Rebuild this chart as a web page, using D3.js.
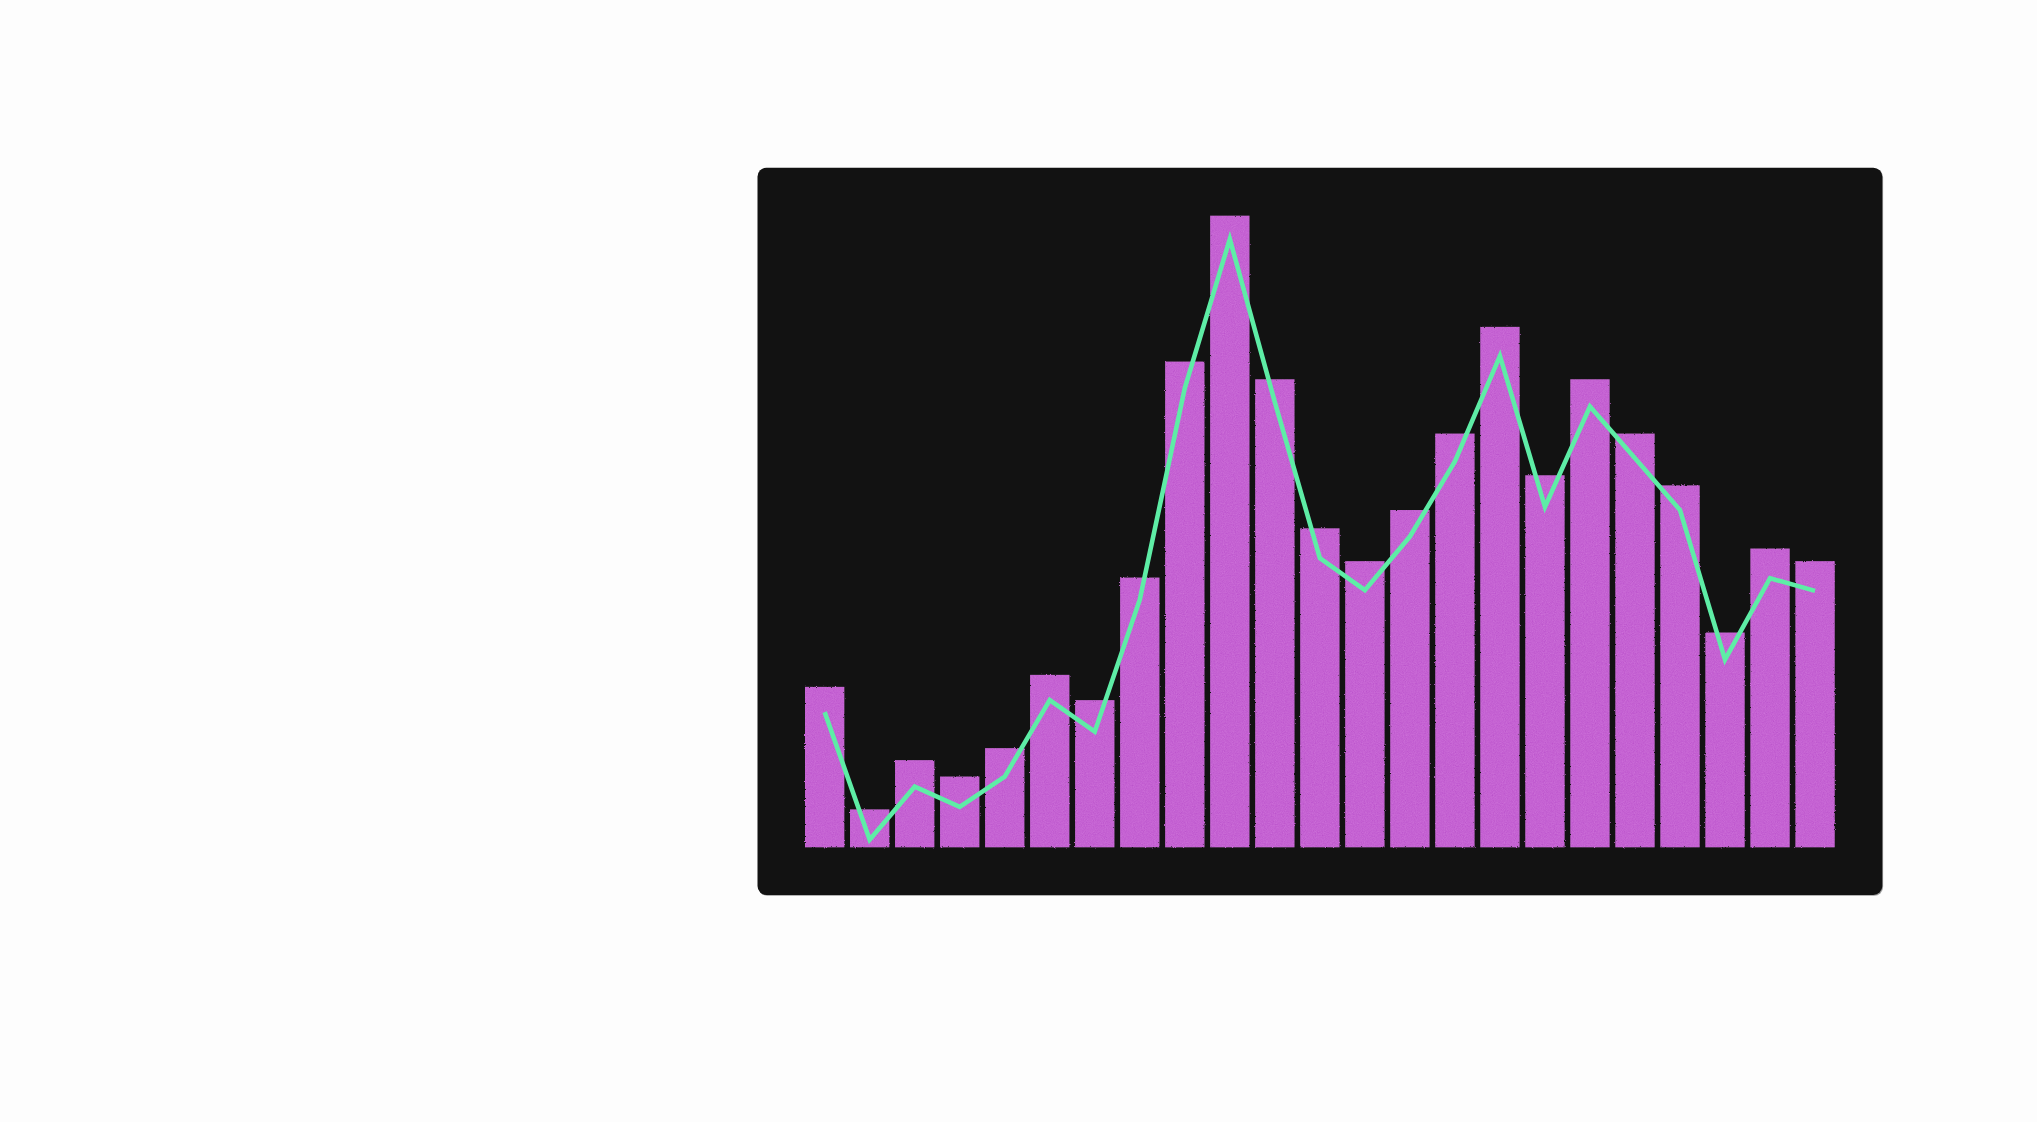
<!DOCTYPE html>
<html>
<head>
<meta charset="utf-8">
<script src="https://cdn.jsdelivr.net/npm/d3@7"></script>
<style>
  html, body { margin: 0; padding: 0; background: #fdfdfd; }
  svg { display: block; }
</style>
</head>
<body>
<svg id="chart" width="2037" height="1122"></svg>
<script>
// ---- data ----
const categories = d3.range(1, 24).map(String);
const barValues = [25.4, 6.0, 13.8, 11.2, 15.7, 27.3, 23.3, 42.7, 76.9, 100, 74.1, 50.5, 45.3, 53.4, 65.5, 82.4, 58.9, 74.1, 65.5, 57.3, 34.0, 47.3, 45.3];
const lineValues = [21.4, 1.2, 9.6, 6.4, 11.2, 23.3, 18.3, 39.2, 72.7, 96.3, 70.5, 45.8, 40.7, 49.2, 61.1, 77.8, 53.9, 69.8, 61.6, 53.4, 29.7, 42.6, 40.6];
const yDomain = [0, 100];

// ---- layout ----
const svg = d3.select("#chart");
const panel = { x: 757.5, y: 167.7, w: 1124.8, h: 727.3, r: 9 };

const defs = svg.append("defs");
const grain = defs.append("filter").attr("id", "grain")
  .attr("color-interpolation-filters", "sRGB")
  .attr("x", "-2%").attr("y", "-2%").attr("width", "104%").attr("height", "104%");
grain.append("feTurbulence").attr("type", "fractalNoise").attr("baseFrequency", 0.9)
  .attr("numOctaves", 2).attr("seed", 7).attr("result", "noise");
grain.append("feDisplacementMap").attr("in", "SourceGraphic").attr("in2", "noise")
  .attr("scale", 2.2).attr("xChannelSelector", "R").attr("yChannelSelector", "G").attr("result", "disp");
grain.append("feColorMatrix").attr("in", "noise").attr("type", "matrix")
  .attr("values", "0.33 0.33 0.33 0 0  0.33 0.33 0.33 0 0  0.33 0.33 0.33 0 0  0 0 0 0 0.3")
  .attr("result", "gray");
grain.append("feComposite").attr("in", "gray").attr("in2", "disp").attr("operator", "in").attr("result", "gmask");
grain.append("feBlend").attr("in", "gmask").attr("in2", "disp").attr("mode", "overlay");

// soft edge behind the panel
svg.append("rect")
  .attr("x", panel.x + 0.8).attr("y", panel.y + 0.8)
  .attr("width", panel.w).attr("height", panel.h)
  .attr("rx", panel.r).attr("ry", panel.r)
  .attr("fill", "#9a9a9a");

svg.append("rect")
  .attr("x", panel.x).attr("y", panel.y)
  .attr("width", panel.w).attr("height", panel.h)
  .attr("rx", panel.r).attr("ry", panel.r)
  .attr("fill", "#121212");

const x = d3.scaleBand().domain(categories).range([805, 1834.7]).paddingInner(0.127).paddingOuter(0);
const y = d3.scaleLinear().domain(yDomain).range([847.3, 215.7]);

svg.append("g").attr("filter", "url(#grain)")
  .selectAll("rect").data(barValues).join("rect")
  .attr("x", (d, i) => x(categories[i]))
  .attr("y", d => y(d))
  .attr("width", x.bandwidth())
  .attr("height", d => y(0) - y(d))
  .attr("fill", "#c562d3");

const line = d3.line()
  .x((d, i) => x(categories[i]) + x.bandwidth() / 2)
  .y(d => y(d));

svg.append("path")
  .datum(lineValues)
  .attr("d", line)
  .attr("fill", "none")
  .attr("stroke", "#5eeda6")
  .attr("stroke-width", 4.6)
  .attr("stroke-linejoin", "miter")
  .attr("stroke-linecap", "butt");
</script>
</body>
</html>
